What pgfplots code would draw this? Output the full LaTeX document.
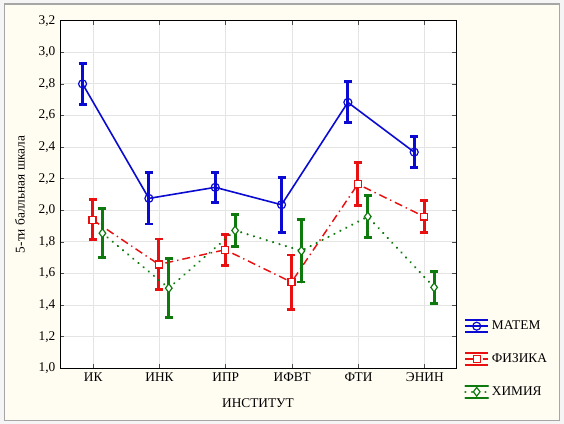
\documentclass[border=0pt]{standalone}
\usepackage{fontspec}
\setmainfont{Liberation Serif}
\usepackage{pgfplots}
\pgfplotsset{compat=1.18}

\definecolor{cream}{HTML}{FFFDF1}
\definecolor{framegray}{HTML}{A6A6A6}
\definecolor{gridgray}{HTML}{E4E4E4}
\definecolor{sblue}{HTML}{0A0AD2}
\definecolor{sred}{HTML}{E81010}
\definecolor{sgreen}{HTML}{0E7A0E}

\begin{document}
\fontsize{10}{12}\selectfont
\begin{tikzpicture}
  % outer window frame (564x424 px, 1px = 0.75pt)
  \fill[gray!8] (0,0) rectangle (423pt,318pt);
  \draw[fill=cream, draw=framegray, line width=1.2pt] (3.5pt,2.5pt) rectangle (419.5pt,315pt);

  \begin{axis}[
      at={(45pt,41.8pt)}, anchor=south west,
      scale only axis,
      width=297pt, height=260.7pt,
      axis background/.style={fill=white},
      axis line style={black, line width=0.7pt},
      xmin=-0.5, xmax=5.47,
      ymin=1.0, ymax=3.2,
      xtick={0,1,2,3,4,5},
      xticklabels={ИК, ИНК, ИПР, ИФВТ, ФТИ, ЭНИН},
      ytick={1.0,1.2,1.4,1.6,1.8,2.0,2.2,2.4,2.6,2.8,3.0,3.2},
      yticklabel style={/pgf/number format/.cd, use comma, fixed, fixed zerofill, precision=1},
      /pgf/number format/assume math mode=true,
      tick align=inside,
      major tick length=3pt,
      tick style={black!70, line width=0.5pt},
      grid=major,
      major grid style={gridgray, line width=0.6pt},
      ticklabel style={font=\fontsize{10}{12}\selectfont},
      xlabel={ИНСТИТУТ},
      ylabel={5-ти балльная шкала},
      xlabel style={at={(axis description cs:0.5,-0.101)}, anchor=center},
      ylabel style={at={(axis description cs:-0.101,0.5)}, anchor=center},
      label style={font=\fontsize{10}{12}\selectfont},
      error bars/y dir=both,
      error bars/y explicit,
      error bars/error mark=-,
      error bars/error bar style={line width=2.2pt, solid},
      error bars/error mark options={rotate=90, line width=2.2pt, mark size=3pt, solid},
      legend style={at={(axis description cs:1.02,0.145)}, anchor=north west,
        draw=none, fill=none, row sep=12.5pt, inner sep=0pt,
        font=\fontsize{10}{12}\selectfont,
        /tikz/every even column/.append style={column sep=6pt}},
      legend cell align=left,
      legend image code/.code={
        \draw[solid, line width=1.6pt] (0pt,4.6pt) -- (17pt,4.6pt);
        \draw[solid, line width=1.6pt] (0pt,-4.6pt) -- (17pt,-4.6pt);
        \draw[#1] (0pt,0pt) -- (17pt,0pt);
        \draw[#1, solid] plot coordinates {(8.5pt,0pt)};
      },
    ]

    % МАТЕМ
    \addplot[sblue, line width=1.2pt, mark=o, mark size=3pt,
      mark options={solid, fill=white, line width=0.9pt}]
      coordinates {
        (-0.16,2.800) +- (0,0.130)
        (0.84,2.075) +- (0,0.162)
        (1.84,2.145) +- (0,0.095)
        (2.84,2.035) +- (0,0.173)
        (3.84,2.683) +- (0,0.129)
        (4.84,2.368) +- (0,0.098)
      };
    \addlegendentry{МАТЕМ}

    % ФИЗИКА
    \addplot[sred, line width=1.1pt, dash pattern=on 6pt off 3pt on 1pt off 3pt,
      mark=square*, mark size=2.6pt,
      mark options={solid, fill=white, line width=0.9pt}]
      coordinates {
        (-0.01,1.940) +- (0,0.128)
        (0.99,1.657) +- (0,0.161)
        (1.99,1.750) +- (0,0.099)
        (2.99,1.545) +- (0,0.172)
        (3.99,2.165) +- (0,0.135)
        (4.99,1.960) +- (0,0.100)
      };
    \addlegendentry{ФИЗИКА}

    % ХИМИЯ
    \addplot[sgreen, line width=1.8pt, dash pattern=on 0.01pt off 5pt, line cap=round,
      mark=diamond*, mark size=3.3pt,
      mark options={solid, fill=white, line width=0.9pt}]
      coordinates {
        (0.14,1.855) +- (0,0.155)
        (1.14,1.507) +- (0,0.187)
        (2.14,1.872) +- (0,0.100)
        (3.14,1.743) +- (0,0.197)
        (4.14,1.960) +- (0,0.133)
        (5.14,1.512) +- (0,0.102)
      };
    \addlegendentry{ХИМИЯ}

  \end{axis}
\end{tikzpicture}
\end{document}
